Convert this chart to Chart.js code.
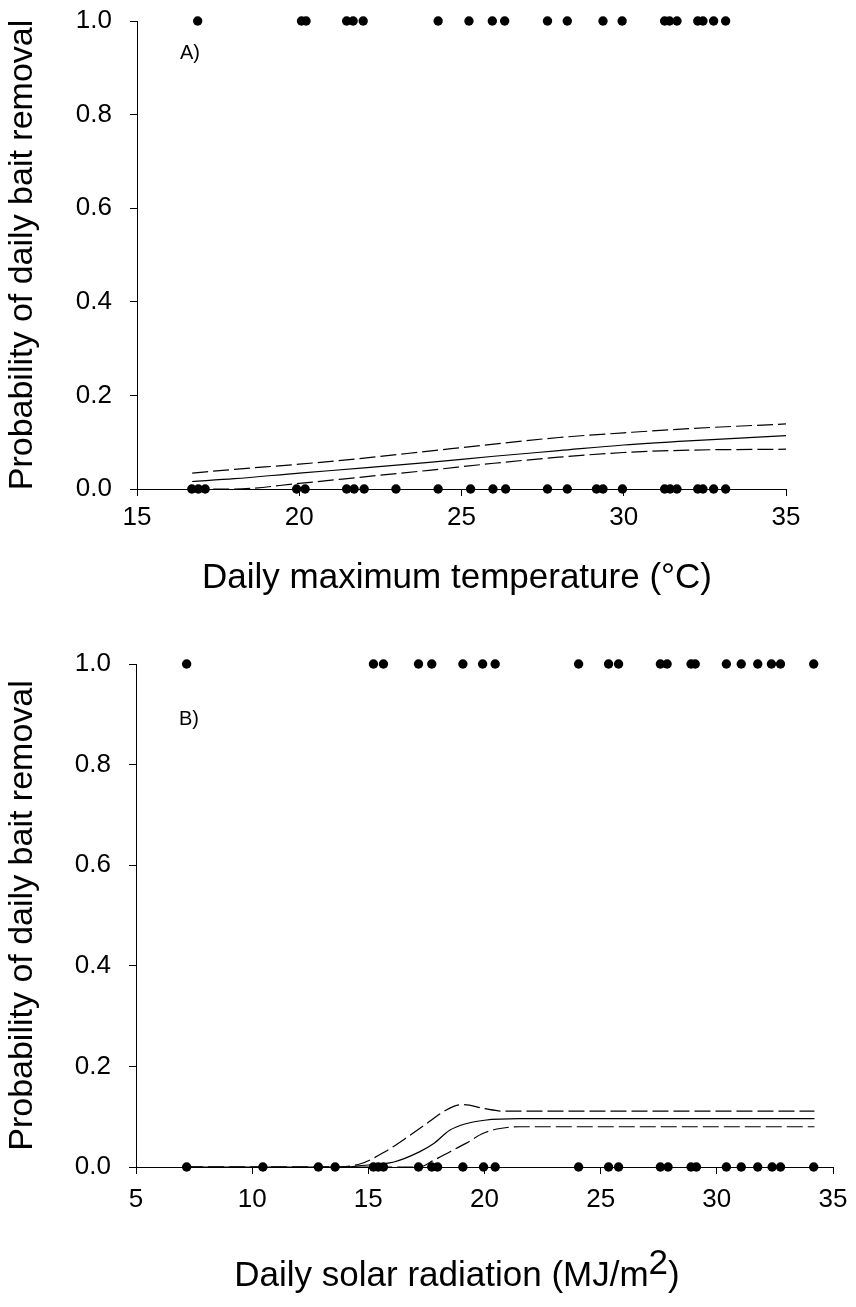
<!DOCTYPE html>
<html>
<head>
<meta charset="utf-8">
<title>Probability of daily bait removal</title>
<script src="https://cdn.jsdelivr.net/npm/chart.js@4.4.1/dist/chart.umd.min.js"></script>
<style>
    html, body {
        margin: 0;
        padding: 0;
        background: #fff;
    }
    .page {
        position: relative;
        width: 856px;
        height: 1307px;
    }
    #tempChart {
        position: absolute;
        left: 0;
        top: 0;
    }
    #solarChart {
        position: absolute;
        left: 0;
        top: 640px;
    }
</style>
</head>
<body>
<div class="page">
    <canvas id="tempChart" width="856" height="640"></canvas>
    <canvas id="solarChart" width="856" height="667"></canvas>
</div>

<script>
    // A) daily maximum temperature (°C)
    const tempRemoved = [16.87, 20.07, 20.21, 21.46, 21.66, 21.97, 24.28, 25.23, 25.95, 26.33, 27.65,
        28.26, 29.36, 29.95, 31.26, 31.41, 31.64, 32.28, 32.44, 32.77, 33.14];
    const tempKept = [16.69, 16.89, 17.10, 19.92, 20.18, 21.46, 21.69, 22.0, 22.98, 24.28, 25.28, 25.97,
        26.36, 27.65, 28.26, 29.16, 29.36, 29.96, 31.26, 31.43, 31.64, 32.28, 32.44, 32.77, 33.14];
    const tempFitX = [16.7, 18, 20, 22, 24, 26, 28, 30, 32, 35];
    const tempFit = [0.016, 0.022, 0.034, 0.045, 0.057, 0.070, 0.082, 0.094, 0.103, 0.114];
    const tempUpper = [0.034, 0.042, 0.053, 0.066, 0.081, 0.096, 0.110, 0.120, 0.129, 0.139];
    const tempLower = [0.0, 0.0, 0.012, 0.026, 0.040, 0.055, 0.068, 0.078, 0.083, 0.085];

    // B) daily solar radiation (MJ/m2)
    const solarRemoved = [7.18, 15.22, 15.65, 17.16, 17.73, 19.07, 19.92, 20.46, 24.05, 25.34, 25.77,
        27.57, 27.86, 28.89, 29.07, 30.41, 31.05, 31.76, 32.35, 32.74, 34.17];
    const solarKept = [7.18, 10.46, 12.85, 13.57, 15.22, 15.43, 15.65, 17.16, 17.73, 17.98, 19.07, 19.96,
        20.46, 24.05, 25.34, 25.77, 27.57, 27.9, 28.89, 29.12, 30.41, 31.05, 31.76, 32.38, 32.74, 34.17];
    const solarFitX = [7.2, 14.0, 14.7, 16.1, 17.2, 17.8, 18.5, 19.2, 20.0, 21.5, 25, 34.2];
    const solarFit = [0.0, 0.0, 0.003, 0.010, 0.030, 0.046, 0.073, 0.086, 0.093, 0.096, 0.096, 0.096];
    const solarUpperX = [7.2, 13.5, 14.7, 15.7, 16.7, 17.5, 18.1, 18.7, 19.1, 20.0, 20.8, 21.5, 34.2];
    const solarUpper = [0.0, 0.0, 0.007, 0.030, 0.060, 0.086, 0.106, 0.121, 0.124, 0.116, 0.111, 0.111, 0.111];
    const solarLowerX = [7.2, 17.2, 17.8, 18.5, 19.2, 19.9, 20.6, 21.5, 34.2];
    const solarLower = [0.0, 0.0, 0.013, 0.030, 0.047, 0.066, 0.076, 0.080, 0.080];

    const yTicks = [0, 0.2, 0.4, 0.6, 0.8, 1.0];
    const yTitle = 'Probability of daily bait removal';

    const FONT = "'Liberation Sans', Arial, sans-serif";

    const pairs = (xs, ys) => xs.map((x, i) => ({ x: x, y: ys[i] }));
    const atY = (xs, y) => xs.map(x => ({ x: x, y: y }));

    // axis titles and panel letter, drawn after the chart
    const panelText = {
        id: 'panelText',
        afterDraw(chart, args, opts) {
            const ctx = chart.ctx;
            const area = chart.chartArea;
            ctx.save();
            ctx.fillStyle = '#000';
            ctx.textBaseline = 'middle';

            // y title
            ctx.save();
            ctx.font = opts.yFont;
            ctx.translate(opts.yTitleX, (area.top + area.bottom) / 2);
            ctx.rotate(-Math.PI / 2);
            ctx.textAlign = 'center';
            ctx.fillText(opts.yTitle, 0, 0);
            ctx.restore();

            // x title, parts may be superscript
            ctx.font = opts.xFont;
            let total = 0;
            opts.xParts.forEach(p => { total += ctx.measureText(p[0]).width; });
            let x = opts.xTitleX - total / 2;
            ctx.textAlign = 'left';
            opts.xParts.forEach(p => {
                ctx.fillText(p[0], x, opts.xTitleY - (p[1] ? opts.supRise : 0));
                x += ctx.measureText(p[0]).width;
            });

            // panel letter
            ctx.font = opts.labelFont;
            ctx.fillText(opts.label, area.left + opts.labelDx, chart.scales.y.getPixelForValue(opts.labelY));
            ctx.restore();
        }
    };

    function makeChart(id, cfg) {
        const dashed = {
            type: 'scatter', showLine: true, borderColor: '#000', borderWidth: 1.2,
            borderDash: [16, 5], pointRadius: 0, cubicInterpolationMode: 'monotone', clip: false
        };
        return new Chart(document.getElementById(id), {
            type: 'scatter',
            data: {
                datasets: [
                    Object.assign({}, dashed, { data: cfg.upper }),
                    Object.assign({}, dashed, { data: cfg.lower }),
                    Object.assign({}, dashed, { data: cfg.fit, borderDash: [] }),
                    {
                        data: cfg.removed, pointRadius: 4.7, pointBackgroundColor: '#000',
                        pointBorderWidth: 0, clip: false
                    },
                    {
                        data: cfg.kept, pointRadius: 4.7, pointBackgroundColor: '#000',
                        pointBorderWidth: 0, clip: false
                    }
                ]
            },
            options: {
                responsive: false,
                animation: false,
                events: [],
                layout: { padding: cfg.padding },
                plugins: {
                    legend: { display: false },
                    tooltip: { enabled: false },
                    panelText: cfg.text
                },
                scales: {
                    x: {
                        type: 'linear',
                        min: cfg.xMin,
                        max: cfg.xMax,
                        afterFit: s => {
                            s.height = cfg.xAxisHeight;
                            s.paddingLeft = 0;
                            s.paddingRight = 0;
                        },
                        ticks: {
                            stepSize: 5, color: '#000', padding: cfg.xTickPad,
                            font: { family: FONT, size: 26 }
                        },
                        grid: { drawOnChartArea: false, color: '#000', tickLength: 7 },
                        border: { color: '#000', width: 1 }
                    },
                    y: {
                        min: 0,
                        max: 1,
                        afterFit: s => {
                            s.width = cfg.yAxisWidth;
                            s.paddingTop = 0;
                            s.paddingBottom = 0;
                        },
                        afterBuildTicks: s => { s.ticks = yTicks.map(v => ({ value: v })); },
                        ticks: {
                            color: '#000', padding: 18,
                            font: { family: FONT, size: 26 },
                            callback: v => v.toFixed(1)
                        },
                        grid: { drawOnChartArea: false, color: '#000', tickLength: 7 },
                        border: { color: '#000', width: 1 }
                    }
                }
            },
            plugins: [panelText]
        });
    }

    makeChart('tempChart', {
        xMin: 15, xMax: 35,
        fit: pairs(tempFitX, tempFit),
        upper: pairs(tempFitX, tempUpper),
        lower: pairs(tempFitX, tempLower),
        removed: atY(tempRemoved, 1),
        kept: atY(tempKept, 0),
        padding: { top: 21, right: 70, left: 0, bottom: 0 },
        yAxisWidth: 137,
        xAxisHeight: 151,
        xTickPad: 6,
        text: {
            yTitle: yTitle, yFont: '34px ' + FONT, yTitleX: 23,
            xParts: [['Daily maximum temperature (°C)', false]], xFont: '35px ' + FONT,
            xTitleX: 457, xTitleY: 578, supRise: 0,
            label: 'A)', labelFont: '20px ' + FONT, labelDx: 43, labelY: 0.93
        }
    });

    makeChart('solarChart', {
        xMin: 5, xMax: 35,
        fit: pairs(solarFitX, solarFit),
        upper: pairs(solarUpperX, solarUpper),
        lower: pairs(solarLowerX, solarLower),
        removed: atY(solarRemoved, 1),
        kept: atY(solarKept, 0),
        padding: { top: 24, right: 23, left: 0, bottom: 0 },
        yAxisWidth: 136,
        xAxisHeight: 140,
        xTickPad: 10,
        text: {
            yTitle: yTitle, yFont: '34px ' + FONT, yTitleX: 23,
            xParts: [['Daily solar radiation (MJ/m', false], ['2', true], [')', false]],
            xFont: '35px ' + FONT, xTitleX: 457, xTitleY: 636, supRise: 12,
            label: 'B)', labelFont: '20px ' + FONT, labelDx: 43, labelY: 0.89
        }
    });
</script>
</body>
</html>
